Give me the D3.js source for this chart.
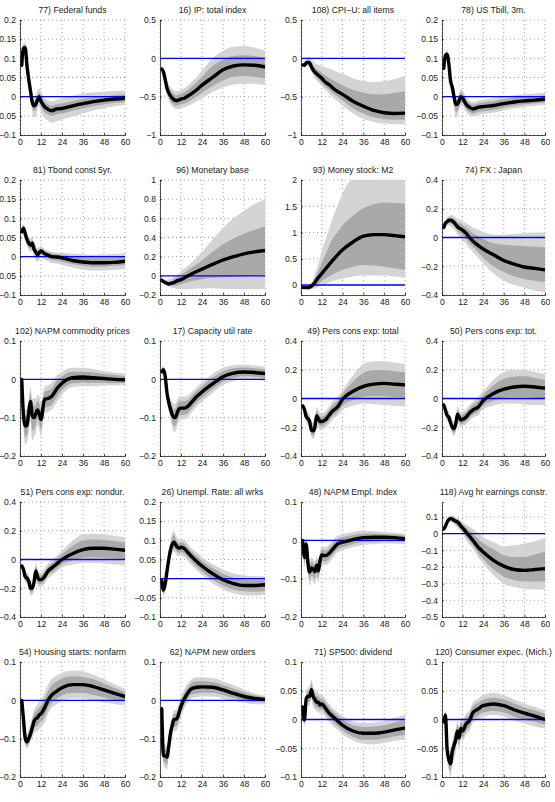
<!DOCTYPE html>
<html>
<head>
<meta charset="utf-8">
<script src="https://cdn.jsdelivr.net/npm/d3@7"></script>
<style>
  body { margin: 0; background: #fff; }
  text { font-family: "Liberation Sans", Arial, sans-serif; fill: #222; }
</style>
</head>
<body>
<svg id="chart" width="555" height="802"></svg>
<script>
/*
    DATA
    impulse responses, at these horizons (months)
*/
var horizons = [1,2,3,4,5,6,7,8,9,10,11,12,14,16,18,21,24,30,36,42,48,54,60];

var titles = [
  "77) Federal funds", "16) IP: total index", "108) CPI\u2212U: all items", "78) US Tbill, 3m.",
  "81) Tbond const 5yr.", "96) Monetary base", "93) Money stock: M2", "74) FX : Japan",
  "102) NAPM commodity prices", "17) Capacity util rate", "49) Pers cons exp: total", "50) Pers cons exp: tot.",
  "51) Pers cons exp: nondur.", "26) Unempl. Rate: all wrks", "48) NAPM Empl. Index", "118) Avg hr earnings constr.",
  "54) Housing starts: nonfarm", "62) NAPM new orders", "71) SP500: dividend", "120) Consumer expec. (Mich.)"
];

var yDomains = [
  [-0.1, 0.2], [-1, 0.5], [-1, 0.5], [-0.1, 0.2],
  [-0.1, 0.2], [-0.2, 1], [-0.19, 2], [-0.4, 0.4],
  [-0.2, 0.1], [-0.2, 0.1], [-0.4, 0.4], [-0.4, 0.4],
  [-0.4, 0.4], [-0.1, 0.2], [-0.2, 0.1], [-0.5, 0.19],
  [-0.2, 0.1], [-0.2, 0.1], [-0.1, 0.1], [-0.1, 0.1]
];

var yTicks = [
  [-0.1,-0.05,0,0.05,0.1,0.15,0.2], [-1,-0.5,0,0.5], [-1,-0.5,0,0.5], [-0.1,-0.05,0,0.05,0.1,0.15,0.2],
  [-0.1,-0.05,0,0.05,0.1,0.15,0.2], [-0.2,0,0.2,0.4,0.6,0.8,1], [0,0.5,1,1.5,2], [-0.4,-0.2,0,0.2,0.4],
  [-0.2,-0.1,0,0.1], [-0.2,-0.1,0,0.1], [-0.4,-0.2,0,0.2,0.4], [-0.4,-0.2,0,0.2,0.4],
  [-0.4,-0.2,0,0.2,0.4], [-0.1,-0.05,0,0.05,0.1,0.15,0.2], [-0.2,-0.1,0,0.1], [-0.5,-0.4,-0.3,-0.2,-0.1,0,0.1],
  [-0.2,-0.1,0,0.1], [-0.2,-0.1,0,0.1], [-0.1,-0.05,0,0.05,0.1], [-0.1,-0.05,0,0.05,0.1]
];

var xTicks = [0, 12, 24, 36, 48, 60];

// median response
var medians = [
  [.082,.128,.128,.08,.045,.015,-.015,-.024,-.02,-.008,0,-.012,-.026,-.033,-.037,-.032,-.031,-.024,-.018,-.013,-.009,-.006,-.004],
  [-.14,-.18,-.28,-.39,-.45,-.49,-.52,-.54,-.55,-.55,-.54,-.53,-.52,-.49,-.46,-.41,-.35,-.25,-.15,-.1,-.085,-.09,-.11],
  [-.086,-.09,-.056,-.055,-.06,-.11,-.15,-.18,-.2,-.22,-.24,-.26,-.31,-.34,-.38,-.43,-.47,-.56,-.625,-.68,-.71,-.72,-.715],
  [.074,.108,.11,.085,.04,.025,0,-.02,-.02,-.01,0,-.004,-.02,-.028,-.032,-.028,-.026,-.023,-.018,-.014,-.011,-.009,-.006],
  [.065,.074,.06,.045,.035,.03,.035,.02,.012,.005,.01,.015,.008,.004,0,-.001,-.003,-.01,-.014,-.016,-.016,-.015,-.012],
  [-.045,-.06,-.07,-.08,-.085,-.08,-.075,-.07,-.06,-.05,-.045,-.04,-.02,0,.02,.045,.07,.12,.165,.2,.23,.25,.265],
  [-.045,-.05,-.05,-.05,-.04,-.02,.01,.05,.1,.14,.18,.22,.3,.38,.46,.57,.67,.82,.93,.96,.96,.94,.92],
  [.07,.1,.11,.12,.12,.115,.105,.09,.075,.065,.06,.05,.03,0,-.025,-.055,-.08,-.12,-.16,-.185,-.205,-.215,-.225],
  [0,-.095,-.122,-.12,-.085,-.058,-.095,-.1,-.09,-.08,-.09,-.105,-.052,-.05,-.045,-.025,-.01,.004,.006,.004,.002,0,-.001],
  [.02,.025,.007,-.036,-.06,-.078,-.092,-.1,-.098,-.085,-.077,-.075,-.075,-.07,-.06,-.045,-.033,-.012,.007,.016,.019,.018,.015],
  [-.053,-.076,-.127,-.14,-.16,-.22,-.225,-.2,-.12,-.14,-.16,-.16,-.15,-.12,-.09,-.06,-.005,.05,.085,.1,.105,.1,.095],
  [-.045,-.08,-.12,-.13,-.17,-.2,-.21,-.18,-.11,-.13,-.15,-.145,-.13,-.1,-.08,-.06,-.015,.035,.065,.08,.085,.08,.072],
  [-.045,-.07,-.12,-.13,-.15,-.2,-.2,-.16,-.08,-.12,-.14,-.14,-.12,-.08,-.06,-.03,0,.04,.068,.078,.078,.072,.064],
  [-.005,-.03,-.013,.02,.05,.075,.09,.095,.088,.082,.08,.082,.078,.068,.058,.045,.033,.013,-.003,-.013,-.018,-.018,-.016],
  [0,-.045,-.01,-.06,-.083,-.072,-.075,-.082,-.065,-.08,-.052,-.038,-.04,-.035,-.025,-.01,-.005,.002,.007,.008,.008,.007,.004],
  [.028,.045,.07,.085,.09,.088,.08,.075,.07,.06,.045,.035,.01,-.015,-.04,-.08,-.11,-.16,-.195,-.215,-.22,-.215,-.21],
  [0,-.05,-.1,-.108,-.1,-.088,-.072,-.055,-.048,-.045,-.038,-.035,-.02,0,.013,.024,.033,.041,.041,.036,.027,.018,.01],
  [-.022,-.145,-.145,-.148,-.12,-.085,-.065,-.05,-.05,-.045,-.03,-.015,.005,.02,.03,.034,.035,.034,.027,.018,.01,.005,.002],
  [.022,-.001,.036,.04,.04,.052,.04,.035,.03,.03,.025,.027,.02,.012,.006,-.002,-.01,-.02,-.024,-.024,-.022,-.018,-.015],
  [-.004,.008,-.053,-.07,-.077,-.055,-.045,-.035,-.02,-.032,-.015,-.02,-.008,-.002,.012,.018,.024,.027,.024,.017,.011,.006,0]
];

// outer (light) band
var outerHi = [
  [.095,.14,.142,.1,.065,.035,.01,0,.005,.015,.022,.015,-.002,-.01,-.012,-.008,-.004,.002,.008,.011,.013,.015,.016],
  [-.1,-.13,-.2,-.28,-.33,-.37,-.4,-.42,-.43,-.43,-.42,-.41,-.39,-.35,-.31,-.24,-.16,0,.1,.15,.16,.14,.1],
  [-.06,-.055,-.01,.01,.02,-.02,-.04,-.06,-.07,-.08,-.09,-.1,-.12,-.13,-.15,-.18,-.2,-.26,-.3,-.31,-.3,-.27,-.23],
  [.085,.12,.122,.1,.06,.045,.02,0,0,.01,.02,.016,0,-.01,-.014,-.01,-.008,-.004,0,.004,.006,.008,.01],
  [.075,.085,.075,.06,.05,.048,.052,.038,.03,.022,.025,.028,.02,.016,.013,.011,.01,.008,.006,.005,.006,.007,.009],
  [-.03,-.035,-.04,-.04,-.035,-.03,-.02,-.01,0,.015,.03,.05,.08,.11,.14,.19,.25,.38,.5,.6,.68,.75,.8],
  [-.02,-.02,-.02,-.01,.01,.05,.12,.2,.3,.4,.52,.65,.85,1.05,1.25,1.5,1.75,2.05,2.2,2.3,2.3,2.3,2.3],
  [.09,.12,.14,.15,.155,.155,.15,.14,.13,.125,.12,.11,.1,.085,.07,.055,.04,.02,.02,.025,.03,.035,.035],
  [0,-.06,-.08,-.075,-.05,-.02,-.05,-.05,-.05,-.04,-.045,-.06,-.02,-.015,-.01,.01,.02,.03,.03,.027,.022,.018,.015],
  [.03,.035,.02,-.018,-.038,-.05,-.06,-.065,-.062,-.052,-.046,-.045,-.045,-.042,-.034,-.02,-.008,.014,.03,.037,.038,.036,.033],
  [-.03,-.045,-.085,-.095,-.11,-.165,-.17,-.145,-.06,-.08,-.1,-.105,-.09,-.06,-.025,.01,.06,.16,.24,.26,.26,.25,.24],
  [-.025,-.05,-.08,-.09,-.125,-.15,-.16,-.13,-.055,-.075,-.095,-.09,-.075,-.045,-.02,.01,.05,.13,.185,.2,.2,.185,.17],
  [-.025,-.04,-.08,-.09,-.105,-.15,-.15,-.11,-.02,-.065,-.09,-.09,-.065,-.03,-.005,.025,.06,.13,.175,.18,.175,.165,.155],
  [0,-.01,.005,.04,.07,.1,.12,.125,.115,.105,.102,.104,.1,.09,.08,.068,.056,.038,.024,.014,.008,.006,.006],
  [.008,-.02,.012,-.03,-.05,-.045,-.048,-.055,-.04,-.05,-.028,-.015,-.018,-.012,-.002,.012,.016,.022,.025,.024,.022,.02,.017],
  [.035,.06,.09,.105,.11,.11,.105,.1,.095,.088,.078,.07,.055,.04,.03,.005,-.02,-.05,-.075,-.07,-.06,-.045,-.025],
  [0,-.03,-.08,-.085,-.075,-.06,-.042,-.025,-.016,-.01,-.004,0,.02,.04,.055,.065,.072,.078,.075,.067,.055,.042,.03],
  [-.01,-.11,-.115,-.12,-.09,-.06,-.04,-.025,-.025,-.02,-.005,.01,.03,.045,.055,.06,.06,.058,.05,.04,.028,.018,.012],
  [.032,.012,.05,.055,.058,.07,.058,.052,.048,.047,.043,.043,.036,.028,.021,.013,.006,-.003,-.006,-.005,-.002,.003,.008],
  [.004,.015,-.035,-.05,-.055,-.035,-.025,-.015,-.002,-.012,.003,0,.01,.016,.03,.036,.043,.046,.042,.035,.028,.022,.016]
];

var outerLo = [
  [.07,.11,.105,.055,.02,-.01,-.04,-.055,-.05,-.035,-.025,-.04,-.055,-.062,-.068,-.064,-.06,-.052,-.044,-.036,-.03,-.025,-.022],
  [-.18,-.23,-.36,-.48,-.55,-.6,-.63,-.65,-.66,-.66,-.66,-.65,-.64,-.62,-.6,-.56,-.52,-.44,-.38,-.34,-.33,-.33,-.35],
  [-.11,-.12,-.1,-.11,-.12,-.18,-.22,-.26,-.29,-.31,-.34,-.36,-.41,-.45,-.5,-.56,-.62,-.72,-.79,-.83,-.85,-.86,-.86],
  [.062,.094,.095,.065,.02,0,-.025,-.055,-.05,-.035,-.025,-.025,-.04,-.048,-.052,-.048,-.045,-.042,-.036,-.031,-.027,-.024,-.021],
  [.052,.06,.045,.028,.018,.012,.015,0,-.008,-.014,-.008,-.002,-.008,-.012,-.016,-.018,-.022,-.028,-.034,-.036,-.036,-.034,-.032],
  [-.06,-.08,-.095,-.105,-.115,-.12,-.125,-.13,-.135,-.138,-.14,-.14,-.14,-.138,-.135,-.132,-.13,-.13,-.135,-.138,-.14,-.14,-.14],
  [-.07,-.075,-.08,-.08,-.08,-.075,-.07,-.06,-.05,-.04,-.025,-.01,.02,.045,.07,.1,.12,.16,.18,.18,.18,.16,.14],
  [.05,.07,.08,.085,.08,.07,.055,.04,.02,.005,-.005,-.02,-.045,-.075,-.1,-.14,-.18,-.25,-.3,-.33,-.35,-.37,-.38],
  [0,-.13,-.17,-.165,-.14,-.11,-.16,-.15,-.14,-.12,-.13,-.15,-.09,-.085,-.08,-.06,-.04,-.02,-.018,-.018,-.016,-.016,-.015],
  [.01,.013,-.008,-.056,-.084,-.106,-.125,-.138,-.135,-.12,-.108,-.105,-.104,-.098,-.087,-.07,-.058,-.036,-.015,-.005,0,-.001,-.004],
  [-.08,-.11,-.17,-.19,-.21,-.27,-.28,-.26,-.18,-.2,-.22,-.215,-.2,-.18,-.15,-.12,-.08,-.05,-.035,-.04,-.045,-.05,-.055],
  [-.065,-.11,-.16,-.17,-.21,-.25,-.26,-.235,-.165,-.185,-.2,-.195,-.18,-.155,-.135,-.115,-.075,-.05,-.035,-.035,-.04,-.045,-.045],
  [-.065,-.1,-.16,-.17,-.195,-.25,-.25,-.21,-.14,-.175,-.19,-.19,-.17,-.13,-.115,-.085,-.055,-.035,-.025,-.025,-.03,-.035,-.04],
  [-.012,-.045,-.03,0,.03,.052,.066,.07,.064,.06,.058,.06,.056,.046,.036,.022,.01,-.012,-.028,-.038,-.043,-.044,-.042],
  [-.008,-.07,-.035,-.09,-.118,-.105,-.108,-.115,-.098,-.11,-.08,-.065,-.065,-.06,-.048,-.032,-.026,-.018,-.012,-.01,-.008,-.008,-.01],
  [.02,.03,.05,.065,.07,.066,.056,.045,.035,.025,.012,0,-.035,-.065,-.09,-.14,-.18,-.25,-.3,-.32,-.33,-.335,-.335],
  [0,-.07,-.12,-.125,-.12,-.11,-.098,-.085,-.082,-.08,-.075,-.07,-.06,-.035,-.02,-.01,0,.005,.005,0,-.005,-.01,-.012],
  [-.035,-.17,-.175,-.18,-.15,-.12,-.095,-.08,-.08,-.075,-.06,-.045,-.02,-.005,.005,.008,.01,.01,.005,-.002,-.006,-.01,-.01],
  [.012,-.012,.02,.025,.025,.035,.022,.018,.014,.014,.01,.012,.005,-.003,-.01,-.018,-.026,-.036,-.042,-.043,-.041,-.037,-.035],
  [-.012,-.005,-.07,-.09,-.1,-.08,-.068,-.058,-.04,-.052,-.033,-.038,-.026,-.02,-.006,0,.005,.008,.005,-.002,-.007,-.012,-.016]
];

// inner (dark) band
var innerHi = [
  [.088,.134,.136,.09,.055,.025,-.002,-.012,-.008,.003,.01,.002,-.014,-.02,-.024,-.02,-.018,-.012,-.006,-.002,.001,.004,.006],
  [-.116,-.15,-.23,-.32,-.38,-.42,-.45,-.47,-.48,-.48,-.47,-.46,-.44,-.41,-.37,-.31,-.24,-.1,-.02,.03,.04,.03,0],
  [-.075,-.075,-.035,-.025,-.02,-.065,-.1,-.12,-.14,-.16,-.17,-.19,-.22,-.25,-.28,-.32,-.35,-.41,-.45,-.47,-.47,-.45,-.43],
  [.08,.115,.117,.094,.052,.037,.012,-.008,-.008,.002,.012,.008,-.008,-.017,-.021,-.017,-.015,-.012,-.007,-.003,0,.002,.004],
  [.07,.08,.068,.053,.043,.04,.044,.03,.022,.015,.018,.022,.015,.011,.008,.006,.005,.001,-.002,-.003,-.003,-.002,.001],
  [-.037,-.048,-.055,-.06,-.06,-.055,-.045,-.035,-.025,-.01,0,.01,.035,.06,.085,.12,.16,.25,.33,.39,.44,.48,.52],
  [-.035,-.035,-.035,-.03,-.02,.01,.06,.12,.19,.26,.34,.42,.57,.72,.87,1,1.14,1.32,1.46,1.54,1.57,1.56,1.55],
  [.08,.11,.125,.135,.14,.137,.13,.12,.105,.1,.095,.085,.07,.05,.03,.01,-.01,-.04,-.05,-.055,-.06,-.065,-.07],
  [0,-.074,-.097,-.093,-.064,-.035,-.068,-.07,-.066,-.056,-.063,-.078,-.033,-.029,-.024,-.004,.008,.02,.02,.018,.014,.011,.009],
  [.026,.031,.015,-.025,-.047,-.061,-.073,-.079,-.076,-.065,-.058,-.057,-.057,-.053,-.044,-.03,-.018,.004,.021,.029,.031,.029,.026],
  [-.04,-.058,-.1,-.113,-.13,-.187,-.192,-.167,-.084,-.104,-.124,-.127,-.114,-.084,-.051,-.018,.034,.116,.178,.196,.198,.19,.182],
  [-.033,-.062,-.096,-.106,-.143,-.17,-.18,-.15,-.077,-.097,-.117,-.111,-.096,-.067,-.044,-.018,.024,.092,.137,.152,.154,.143,.131],
  [-.033,-.052,-.096,-.106,-.123,-.17,-.17,-.13,-.044,-.087,-.11,-.11,-.087,-.05,-.027,.003,.036,.094,.132,.139,.136,.128,.119],
  [-.002,-.018,-.002,.032,.062,.09,.108,.113,.104,.095,.093,.095,.091,.081,.071,.059,.047,.028,.013,.003,-.002,-.004,-.003],
  [.005,-.03,.003,-.042,-.063,-.056,-.059,-.066,-.05,-.062,-.038,-.024,-.027,-.021,-.011,.003,.008,.014,.018,.018,.016,.015,.012],
  [.032,.054,.082,.097,.102,.101,.095,.09,.085,.077,.065,.056,.037,.018,.002,-.03,-.056,-.094,-.13,-.14,-.14,-.125,-.105],
  [0,-.038,-.088,-.094,-.085,-.071,-.054,-.037,-.029,-.024,-.018,-.014,.004,.024,.038,.049,.057,.063,.061,.055,.044,.032,.022],
  [-.015,-.124,-.127,-.131,-.102,-.07,-.05,-.035,-.035,-.03,-.015,0,.02,.035,.045,.05,.05,.048,.04,.031,.021,.013,.008],
  [.028,.007,.044,.049,.051,.063,.051,.045,.041,.04,.036,.037,.03,.022,.015,.007,0,-.01,-.013,-.012,-.01,-.005,-.001],
  [0,.012,-.042,-.058,-.064,-.043,-.033,-.023,-.009,-.02,-.004,-.008,.003,.009,.023,.029,.035,.038,.035,.028,.021,.016,.01]
];

var innerLo = [
  [.076,.12,.118,.068,.033,.003,-.028,-.038,-.034,-.022,-.012,-.025,-.04,-.046,-.05,-.046,-.044,-.037,-.031,-.025,-.02,-.016,-.014],
  [-.164,-.21,-.33,-.44,-.51,-.56,-.59,-.61,-.62,-.62,-.61,-.6,-.59,-.57,-.54,-.5,-.45,-.36,-.29,-.24,-.23,-.24,-.26],
  [-.1,-.105,-.08,-.085,-.09,-.15,-.19,-.22,-.25,-.27,-.3,-.32,-.37,-.4,-.45,-.5,-.55,-.65,-.72,-.77,-.79,-.8,-.8],
  [.067,.1,.101,.073,.028,.01,-.015,-.041,-.038,-.025,-.015,-.016,-.032,-.04,-.044,-.04,-.038,-.035,-.029,-.024,-.02,-.018,-.015],
  [.058,.067,.052,.036,.026,.02,.025,.01,.002,-.005,0,.006,0,-.004,-.008,-.01,-.013,-.019,-.024,-.026,-.026,-.024,-.022],
  [-.053,-.07,-.083,-.093,-.1,-.1,-.1,-.1,-.1,-.095,-.092,-.09,-.075,-.065,-.055,-.045,-.035,-.02,-.015,-.01,-.005,0,0],
  [-.055,-.06,-.065,-.065,-.06,-.05,-.035,-.015,.01,.03,.05,.08,.12,.16,.2,.25,.29,.35,.38,.37,.35,.32,.29],
  [.06,.085,.095,.1,.1,.09,.08,.065,.045,.035,.025,.015,-.01,-.04,-.065,-.1,-.14,-.2,-.24,-.27,-.29,-.3,-.31],
  [0,-.116,-.15,-.147,-.118,-.087,-.134,-.13,-.12,-.104,-.114,-.132,-.075,-.071,-.066,-.046,-.028,-.01,-.008,-.009,-.009,-.01,-.009],
  [.014,.018,-.002,-.048,-.074,-.095,-.112,-.123,-.12,-.106,-.096,-.093,-.092,-.087,-.076,-.06,-.048,-.026,-.006,.004,.008,.007,.004],
  [-.066,-.094,-.153,-.168,-.19,-.25,-.258,-.236,-.156,-.176,-.196,-.193,-.18,-.156,-.126,-.096,-.05,-.01,.013,.016,.015,.01,.005],
  [-.057,-.098,-.144,-.154,-.194,-.23,-.24,-.213,-.143,-.163,-.18,-.175,-.16,-.133,-.113,-.093,-.051,-.016,.005,.011,.01,.005,.002],
  [-.057,-.088,-.144,-.154,-.177,-.23,-.23,-.19,-.116,-.153,-.17,-.17,-.15,-.11,-.093,-.063,-.033,-.005,.012,.016,.013,.008,.002],
  [-.009,-.039,-.023,.008,.038,.061,.076,.08,.074,.069,.067,.069,.065,.055,.045,.031,.019,-.002,-.018,-.028,-.033,-.034,-.032],
  [-.005,-.06,-.025,-.078,-.104,-.092,-.095,-.102,-.085,-.098,-.069,-.054,-.055,-.05,-.039,-.023,-.018,-.01,-.004,-.003,-.002,-.002,-.004],
  [.024,.036,.058,.073,.078,.075,.066,.057,.049,.039,.026,.014,-.017,-.045,-.07,-.116,-.152,-.214,-.258,-.278,-.286,-.287,-.285],
  [0,-.062,-.112,-.118,-.112,-.101,-.088,-.073,-.068,-.066,-.06,-.056,-.044,-.021,-.007,.004,.013,.019,.019,.014,.008,.001,-.003],
  [-.029,-.16,-.163,-.167,-.138,-.106,-.083,-.068,-.068,-.063,-.048,-.033,-.01,.005,.015,.018,.02,.02,.014,.006,0,-.004,-.005],
  [.016,-.007,.026,.031,.031,.041,.029,.025,.02,.02,.016,.018,.011,.003,-.003,-.011,-.019,-.03,-.035,-.035,-.033,-.029,-.027],
  [-.009,.001,-.063,-.082,-.09,-.07,-.058,-.048,-.032,-.044,-.026,-.031,-.019,-.013,.001,.007,.012,.015,.012,.005,0,-.004,-.009]
];

/*
    LAYOUT
*/
var colLeft = [20, 160, 301, 442];
var colWidth = [105, 105, 104, 103];
var rowTop = [20, 180, 341, 502, 662];
var plotH = 115;

var svg = d3.select("#chart");

function fmt(v) {
  if (Math.abs(v) < 1e-9) return "0";
  return String(+v.toFixed(3)).replace("-", "\u2212");
}

titles.forEach(function(title, i) {
  var col = i % 4, row = Math.floor(i / 4);
  var w = colWidth[col], h = plotH;

  var x = d3.scaleLinear().domain([0, 60]).range([0, w]);
  var y = d3.scaleLinear().domain(yDomains[i]).range([h, 0]);

  var g = svg.append("g")
      .attr("transform", "translate(" + colLeft[col] + "," + rowTop[row] + ")");

  g.append("clipPath").attr("id", "clip" + i)
    .append("rect").attr("width", w).attr("height", h);

  // dotted grid
  g.append("g").selectAll("line").data(xTicks).enter().append("line")
      .attr("x1", function(d) { return x(d); }).attr("x2", function(d) { return x(d); })
      .attr("y1", 0).attr("y2", h)
      .attr("stroke", "#888").attr("stroke-width", 0.8).attr("stroke-dasharray", "1,3");
  g.append("g").selectAll("line").data(yTicks[i]).enter().append("line")
      .attr("x1", 0).attr("x2", w)
      .attr("y1", function(d) { return y(d); }).attr("y2", function(d) { return y(d); })
      .attr("stroke", "#888").attr("stroke-width", 0.8).attr("stroke-dasharray", "1,3");

  var pts = horizons.map(function(hz, k) {
    return {h: hz, m: medians[i][k], oLo: outerLo[i][k], oHi: outerHi[i][k], iLo: innerLo[i][k], iHi: innerHi[i][k]};
  });

  var plot = g.append("g").attr("clip-path", "url(#clip" + i + ")");

  plot.append("path").datum(pts)
      .attr("fill", "#d4d4d4")
      .attr("d", d3.area().curve(d3.curveMonotoneX)
        .x(function(d) { return x(d.h); })
        .y0(function(d) { return y(d.oLo); })
        .y1(function(d) { return y(d.oHi); }));

  plot.append("path").datum(pts)
      .attr("fill", "#a9a9a9")
      .attr("d", d3.area().curve(d3.curveMonotoneX)
        .x(function(d) { return x(d.h); })
        .y0(function(d) { return y(d.iLo); })
        .y1(function(d) { return y(d.iHi); }));

  // zero line
  plot.append("line")
      .attr("x1", x(0)).attr("x2", x(60))
      .attr("y1", y(0)).attr("y2", y(0))
      .attr("stroke", "#0000ff").attr("stroke-width", 1.4);

  plot.append("path").datum(pts)
      .attr("fill", "none").attr("stroke", "#000").attr("stroke-width", 3.4)
      .attr("stroke-linejoin", "round").attr("stroke-linecap", "round")
      .attr("d", d3.line().curve(d3.curveMonotoneX)
        .x(function(d) { return x(d.h); })
        .y(function(d) { return y(d.m); }));

  // axes
  var xAxis = g.append("g").attr("transform", "translate(0," + h + ")")
      .call(d3.axisBottom(x).tickValues(xTicks).tickSize(-2).tickPadding(4).tickFormat(d3.format("d")));
  var yAxis = g.append("g")
      .call(d3.axisLeft(y).tickValues(yTicks[i]).tickSize(-2).tickPadding(4).tickFormat(fmt));

  [xAxis, yAxis].forEach(function(a) {
    a.select(".domain").attr("stroke", "#222").attr("stroke-width", 0.8);
    a.selectAll(".tick line").attr("stroke", "#222").attr("stroke-width", 0.8);
    a.selectAll("text").style("font-size", "8.6px").attr("fill", "#222")
      .style("font-family", "'Liberation Sans', Arial, sans-serif");
  });

  g.append("text")
      .attr("x", w / 2).attr("y", -7)
      .attr("text-anchor", "middle")
      .style("font-size", "8.7px")
      .text(title);
});
</script>
</body>
</html>
